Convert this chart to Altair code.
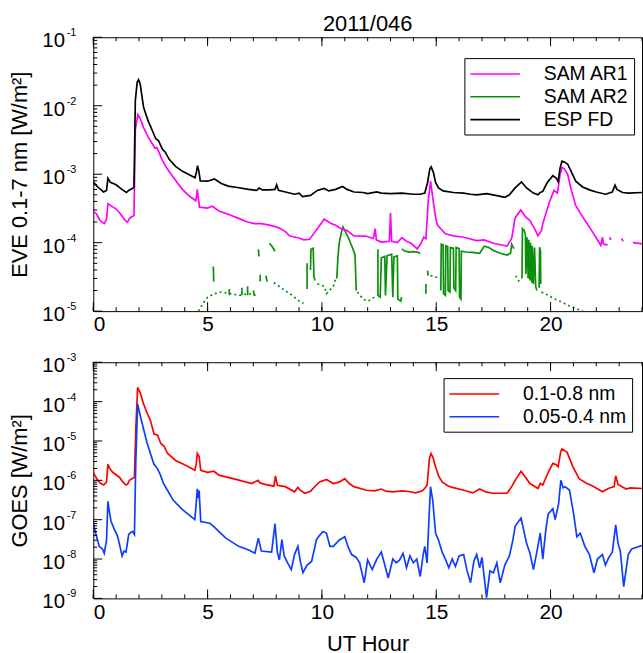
import altair as alt
import pandas as pd

FONT = "Liberation Sans"

# ---------------- EVE panel data ----------------
fd_hour = [0.0, 0.2, 0.45, 0.58, 0.64, 0.75, 1.0, 1.25, 1.45, 1.55, 1.78, 1.84, 1.92, 1.98, 2.05,
           2.2, 2.4, 2.6, 2.73, 2.85, 3.03, 3.15, 3.32, 3.6, 3.9, 4.2, 4.45, 4.52, 4.56, 4.62,
           4.68, 5.0, 5.3, 5.6, 5.9, 6.3, 6.8, 7.15, 7.25, 7.4, 7.7, 7.95, 8.02, 8.1, 8.5, 8.8,
           9.0, 9.15, 9.5, 9.8, 10.1, 10.3, 10.6, 10.9, 11.1, 11.4, 11.8, 12.0, 12.4, 12.6, 13.0,
           13.5, 14.0, 14.3, 14.5, 14.62, 14.72, 14.78, 14.88, 14.97, 15.1, 15.3, 15.75, 16.2,
           16.5, 16.77, 17.2, 17.6, 18.0, 18.2, 18.45, 18.73, 18.95, 19.25, 19.45, 19.55, 19.66,
           19.85, 20.1, 20.25, 20.33, 20.42, 20.5, 20.62, 20.75, 20.9, 21.1, 21.4, 21.7, 22.0,
           22.4, 22.7, 22.82, 22.9, 23.15, 23.4, 24.0]
fd_value = [7.7e-4, 6.5e-4, 5.5e-4, 5.8e-4, 8.7e-4, 7.6e-4, 7.0e-4, 6.0e-4, 5.4e-4, 5.8e-4, 6.4e-4,
            1.2e-2, 2.2e-2, 2.4e-2, 2.1e-2, 9.5e-3, 6.0e-3, 4.2e-3, 3.3e-3, 3.1e-3, 2.3e-3, 2.1e-3,
            1.65e-3, 1.3e-3, 1.1e-3, 9.8e-4, 8.9e-4, 1.1e-3, 1.33e-3, 1.1e-3, 8.0e-4, 7.9e-4,
            8.5e-4, 7.3e-4, 6.7e-4, 6.4e-4, 6.0e-4, 5.8e-4, 6.3e-4, 5.9e-4, 5.9e-4, 6.0e-4, 7.0e-4,
            5.8e-4, 5.4e-4, 5.1e-4, 5.3e-4, 4.7e-4, 4.9e-4, 5.8e-4, 6.2e-4, 5.7e-4, 6.0e-4, 6.6e-4,
            6.0e-4, 5.5e-4, 5.4e-4, 5.2e-4, 5.5e-4, 5.3e-4, 5.2e-4, 5.3e-4, 5.1e-4, 5.1e-4, 5.3e-4,
            7.5e-4, 1.2e-3, 1.28e-3, 1.05e-3, 7.6e-4, 6.3e-4, 5.7e-4, 5.4e-4, 5.3e-4, 5.1e-4,
            5.0e-4, 5.2e-4, 4.9e-4, 4.6e-4, 5.0e-4, 6.3e-4, 7.7e-4, 6.3e-4, 5.3e-4, 5.0e-4, 5.4e-4,
            5.6e-4, 7.5e-4, 9.5e-4, 8.8e-4, 7.8e-4, 1.25e-3, 1.55e-3, 1.5e-3, 1.4e-3, 1.1e-3,
            7.9e-4, 6.5e-4, 5.9e-4, 5.5e-4, 5.1e-4, 5.5e-4, 6.9e-4, 6.0e-4, 5.4e-4, 5.3e-4, 5.4e-4]

ar1_hour = [0.0, 0.15, 0.3, 0.48, 0.58, 0.64, 0.75, 1.0, 1.2, 1.4, 1.5, 1.6, 1.78, 1.84, 1.95, 2.05,
            2.2, 2.4, 2.55, 2.7, 2.78, 2.9, 3.0, 3.2, 3.45, 3.7, 3.9, 4.2, 4.48, 4.52, 4.55, 4.6,
            4.65, 5.0, 5.2, 5.5, 5.9, 6.3, 6.75, 7.05, 7.35, 7.7, 8.0, 8.2, 8.4, 8.6, 9.0, 9.2,
            9.46, 9.6, 9.8, 10.1, 10.4, 10.6, 10.85, 11.1, 11.4, 11.9, 12.25, 12.33, 12.38, 12.6,
            12.95, 13.0, 13.05, 13.3, 13.5, 13.7, 13.9, 14.17, 14.35, 14.45, 14.55, 14.65, 14.75,
            14.85, 14.95, 15.05, 15.4, 15.75, 16.2, 16.77, 17.1, 17.5, 18.1, 18.3, 18.45, 18.7,
            18.9, 19.1, 19.3, 19.45, 19.6, 19.66, 19.95, 20.15, 20.3, 20.42, 20.5, 20.6, 20.75,
            20.9, 21.1, 21.3, 21.55, 21.8, 21.98, 22.2, 22.27, 22.32, 22.5,
            22.58, 22.64, 23.1, 23.18, 23.6, 24.0]
ar1_value = [2.9e-4, 2.6e-4, 2.1e-4, 1.9e-4, 2.2e-4, 3.7e-4, 3.5e-4, 3.1e-4, 2.6e-4, 2.1e-4, 2.0e-4,
             2.3e-4, 2.5e-4, 4.5e-3, 7.4e-3, 6.5e-3, 4.8e-3, 3.5e-3, 2.9e-3, 2.4e-3, 2.45e-3,
             2.0e-3, 1.65e-3, 1.25e-3, 9.5e-4, 7.3e-4, 6.0e-4, 4.8e-4, 4.1e-4, 4.8e-4, 6.0e-4,
             4.3e-4, 3.3e-4, 3.2e-4, 3.4e-4, 2.9e-4, 2.6e-4, 2.3e-4, 2.0e-4, 1.9e-4, 1.9e-4,
             1.8e-4, 1.7e-4, 1.6e-4, 1.45e-4, 1.25e-4, 1.17e-4, 1.1e-4, 1.12e-4, 1.3e-4, 1.6e-4,
             2.2e-4, 1.9e-4, 1.8e-4, 1.6e-4, 1.5e-4, 1.26e-4, 1.25e-4, 1.15e-4, 1.6e-4, 1.1e-4,
             1.02e-4, 1.05e-4, 2.7e-4, 1.05e-4, 1.0e-4, 1.18e-4, 1.05e-4, 9.8e-5, 8.1e-5, 1.0e-4,
             1.2e-4, 1.15e-4, 4.0e-4, 7.9e-4, 4.5e-4, 2.6e-4, 1.8e-4, 1.35e-4, 1.26e-4, 1.2e-4,
             1.07e-4, 1.1e-4, 9.8e-5, 8.9e-5, 1.15e-4, 2.3e-4, 3.0e-4, 2.4e-4, 2.1e-4, 1.6e-4,
             1.26e-4, 1.5e-4, 1.9e-4, 3.9e-4, 5.8e-4, 5.3e-4, 1.0e-3, 1.26e-3, 1.2e-3, 1.0e-3,
             6.0e-4, 3.5e-4, 2.7e-4, 2.0e-4, 1.5e-4, 1.2e-4, 9.1e-5, 1.2e-4, 9.5e-5, 9.3e-5,
             1.2e-4, 1.1e-4, 1.15e-4, 1.05e-4, 1.0e-4, 9.6e-5]
ar1_seg = [0] * 111 + [1, 1, 2, 2, 3, 3]

# SAM AR2: solid pieces (vertical jumps where the signal flickers)
ar2_hour = [5.25, 5.27,
            5.95, 5.95, 6.5, 6.5, 6.75, 6.75, 7.0, 7.05,
            7.22, 7.25, 7.3, 7.3, 7.55, 7.6, 7.7, 7.8, 7.95,
            9.35, 9.35,
            9.5, 9.52, 9.62, 9.65, 9.7,
            10.65, 10.7, 10.75, 10.85, 10.92, 11.0, 11.15, 11.3, 11.4, 11.45, 11.5,
            12.45, 12.45, 12.55, 12.6, 12.75, 12.78, 12.85, 12.95, 13.05, 13.1, 13.15, 13.3, 13.32,
            13.45, 13.48,
            13.5, 13.6, 13.8, 14.0, 14.2, 14.3,
            14.55, 14.55, 14.62, 14.64,
            15.2, 15.22, 15.3, 15.32, 15.4, 15.42, 15.5, 15.52, 15.6, 15.62, 15.75, 15.77, 15.85,
            15.87, 16.0, 16.02, 16.08, 16.1, 16.3, 16.6, 16.9, 17.1, 17.3, 17.5, 17.8, 18.1, 18.25,
            18.3, 18.4,
            18.75, 18.77, 18.85, 18.9, 18.92, 18.97, 19.02, 19.05, 19.1, 19.12, 19.18, 19.2, 19.25,
            19.3, 19.35, 19.4,
            19.5, 19.52, 19.56, 19.57]
ar2_value = [4.5e-5, 2.7e-5,
             2.1e-5, 1.7e-5, 2.2e-5, 1.7e-5, 2.3e-5, 1.7e-5, 2.0e-5, 1.7e-5,
             8.0e-5, 6.3e-5, 3.4e-5, 2.7e-5, 3.3e-5, 2.7e-5, 9.8e-5, 9.0e-5, 7.5e-5,
             5.0e-5, 2.1e-5,
             4.0e-5, 8.0e-5, 8.3e-5, 3.2e-5, 2.8e-5,
             3.0e-5, 6.0e-5, 9.5e-5, 1.4e-4, 1.7e-4, 1.5e-4, 1.2e-4, 9.0e-5, 7.4e-5, 6.5e-5, 2.0e-5,
             8.0e-5, 1.7e-5, 1.6e-5, 6.0e-5, 6.3e-5, 1.7e-5, 6.4e-5, 6.6e-5, 6.8e-5, 1.6e-5,
             6.2e-5, 6.4e-5, 1.5e-5, 1.4e-5, 1.6e-5,
             8.1e-5, 7.6e-5, 7.3e-5, 7.4e-5, 7.2e-5, 7.0e-5,
             1.8e-5, 2.5e-5, 3.9e-5, 3.3e-5,
             2.0e-5, 9.5e-5, 9.3e-5, 1.8e-5, 1.7e-5, 9.0e-5, 8.8e-5, 2.0e-5, 1.9e-5, 8.5e-5,
             8.3e-5, 2.2e-5, 2.0e-5, 8.5e-5, 8.2e-5, 1.6e-5, 1.5e-5, 7.5e-5, 7.3e-5, 7.2e-5,
             7.0e-5, 8.9e-5, 8.5e-5, 7.7e-5, 7.0e-5, 6.6e-5, 7.0e-5, 9.5e-5, 8.2e-5,
             3.0e-5, 1.6e-4, 1.5e-4, 1.3e-4, 3.5e-5, 1.2e-4, 3.0e-5, 1.1e-4, 2.8e-5, 1.0e-4,
             2.6e-5, 9.0e-5, 2.5e-5, 8.5e-5, 2.3e-5, 2.0e-5,
             2.2e-5, 8.6e-5, 7.5e-5, 2.5e-5]
ar2_seg = ([0] * 2 + [1] * 2 + [2] * 2 + [3] * 2 + [4] * 2 + [5] * 2 + [6] * 2 + [7] * 2
           + [8] * 3 + [9] * 2 + [10] * 5 + [11] * 11 + [12] * 15 + [13] * 6 + [14] * 2
           + [15] * 2 + [16] * 29 + [17] * 16 + [18] * 4)

# SAM AR2: sparse, broken (dotted) stretches
ar2_dot_hour = [4.6, 4.8, 5.0, 5.3, 5.6, 6.0, 6.4, 6.8, 7.1,
                7.9, 8.3, 8.7, 9.0, 9.2,
                9.8, 10.1, 10.2, 10.5, 10.6,
                11.55, 11.8, 12.0, 12.2, 12.35,
                14.75, 14.9, 15.05,
                18.48, 18.6, 18.68,
                19.6, 19.9, 20.2, 20.5, 20.8, 21.1, 21.4, 21.6]
ar2_dot_value = [1.0e-5, 1.3e-5, 1.6e-5, 1.8e-5, 1.9e-5, 1.8e-5, 1.7e-5, 1.8e-5, 1.7e-5,
                 2.6e-5, 2.1e-5, 1.7e-5, 1.4e-5, 1.3e-5,
                 2.5e-5, 2.3e-5, 1.8e-5, 2.3e-5, 3.0e-5,
                 1.9e-5, 1.5e-5, 1.4e-5, 1.5e-5, 1.7e-5,
                 3.3e-5, 3.2e-5, 3.1e-5,
                 3.3e-5, 2.8e-5, 2.5e-5,
                 1.9e-5, 1.7e-5, 1.5e-5, 1.35e-5, 1.2e-5, 1.1e-5, 1.0e-5, 9.0e-6]
ar2_dot_seg = [0] * 9 + [1] * 5 + [2] * 5 + [3] * 5 + [4] * 3 + [5] * 3 + [6] * 8

# ---------------- GOES panel data ----------------
long_hour = [0.0, 0.15, 0.3, 0.45, 0.58, 0.64, 0.72, 0.85, 1.14, 1.3, 1.43, 1.5, 1.58, 1.8, 1.86,
             1.94, 2.05, 2.2, 2.35, 2.5, 2.66, 2.81, 2.96, 3.1, 3.25, 3.6, 4.04, 4.44, 4.5, 4.55,
             4.63, 4.7, 5.0, 5.27, 5.5, 6.2, 6.93, 7.2, 7.3, 7.5, 7.9, 7.97, 8.05, 8.4, 8.8, 8.95,
             9.05, 9.25, 9.5, 9.76, 9.9, 10.2, 10.5, 10.75, 11.0, 11.2, 11.4, 11.95, 12.3, 12.6,
             12.8, 13.1, 13.5, 13.8, 14.1, 14.4, 14.5, 14.6, 14.7, 14.77, 14.85, 14.97, 15.1,
             15.26, 15.5, 15.7, 16.2, 16.6, 16.9, 17.2, 17.5, 18.1, 18.3, 18.45, 18.71, 18.9,
             19.1, 19.45, 19.55, 19.66, 19.9, 20.1, 20.25, 20.33, 20.45, 20.5, 20.72, 20.98,
             21.25, 21.55, 21.9, 22.27, 22.55, 22.78, 22.85, 22.95, 23.3, 23.5, 24.0]
long_value = [1.6e-6, 1.1e-6, 8.5e-7, 7.6e-7, 9.0e-7, 2.6e-6, 2.0e-6, 1.6e-6, 1.2e-6, 9.0e-7,
              7.6e-7, 8.0e-7, 1.0e-6, 1.2e-6, 2.0e-5, 2.3e-4, 1.7e-4, 8.7e-5, 5.2e-5, 3.3e-5,
              1.5e-5, 1.4e-5, 8.5e-6, 7.3e-6, 4.8e-6, 3.2e-6, 2.4e-6, 1.8e-6, 2.5e-6, 4.8e-6,
              4.0e-6, 1.8e-6, 1.6e-6, 1.7e-6, 1.35e-6, 1.07e-6, 8.3e-7, 1.0e-6, 8.6e-7, 7.9e-7,
              7.1e-7, 1.3e-6, 7.5e-7, 6.9e-7, 5.1e-7, 6.6e-7, 5.6e-7, 4.7e-7, 5.3e-7, 7.6e-7,
              9.1e-7, 1.05e-6, 8.3e-7, 9.0e-7, 1.1e-6, 8.3e-7, 6.9e-7, 5.6e-7, 5.4e-7, 6.0e-7,
              5.3e-7, 5.1e-7, 5.4e-7, 5.2e-7, 4.8e-7, 5.4e-7, 6.3e-7, 7.5e-7, 3.5e-6, 4.8e-6,
              3.9e-6, 2.2e-6, 1.3e-6, 9.1e-7, 7.3e-7, 6.6e-7, 5.6e-7, 4.8e-7, 6.0e-7, 5.0e-7,
              4.7e-7, 4.7e-7, 6.9e-7, 1.0e-6, 1.7e-6, 1.2e-6, 8.3e-7, 6.2e-7, 8.3e-7, 7.6e-7,
              1.6e-6, 2.7e-6, 2.5e-6, 2.2e-6, 5.5e-6, 6.3e-6, 5.2e-6, 2.2e-6, 1.1e-6, 8.6e-7,
              6.9e-7, 5.1e-7, 6.3e-7, 6.9e-7, 1.3e-6, 7.9e-7, 6.0e-7, 6.4e-7, 6.2e-7]

short_hour = [0.0, 0.12, 0.26, 0.4, 0.48, 0.58, 0.64, 0.72, 0.78, 0.93, 1.05, 1.14, 1.26, 1.35, 1.43,
              1.55, 1.65, 1.72, 1.8, 1.86, 1.94, 2.05, 2.2, 2.35, 2.5, 2.65, 2.8, 2.94, 3.07, 3.2,
              3.5, 3.9, 4.2, 4.44, 4.5, 4.55, 4.6, 4.63, 4.7, 5.1, 5.3, 5.5, 5.8, 6.36, 6.8, 7.07,
              7.22, 7.35, 7.8, 7.95, 8.05, 8.14, 8.25, 8.35, 8.5, 8.66, 8.8, 8.95, 9.05, 9.17,
              9.35, 9.55, 9.76, 9.9, 10.05, 10.2, 10.35, 10.5, 10.75, 11.0, 11.15, 11.3, 11.5,
              11.65, 11.85, 12.0, 12.2, 12.4, 12.6, 12.9, 13.1, 13.25, 13.4, 13.55, 13.7, 13.85,
              14.0, 14.15, 14.3, 14.42, 14.5, 14.6, 14.68, 14.75, 14.85, 14.97, 15.1, 15.26, 15.4,
              15.55, 15.7, 15.84, 16.0, 16.2, 16.35, 16.5, 16.65, 16.77, 16.9, 17.0, 17.2, 17.35,
              17.5, 17.65, 17.8, 18.0, 18.2, 18.35, 18.45, 18.71, 18.95, 19.1, 19.25, 19.4, 19.55,
              19.66, 19.8, 19.9, 20.1, 20.2, 20.35, 20.45, 20.55, 20.64, 20.83, 21.0, 21.15, 21.3,
              21.5, 21.7, 21.9, 22.05, 22.27, 22.4, 22.55, 22.7, 22.85, 22.95, 23.05, 23.2, 23.4,
              23.55, 24.0]
short_value = [8.1e-8, 4.2e-8, 2.1e-8, 1.8e-8, 1.4e-8, 3.0e-8, 2.9e-7, 1.4e-7, 9.0e-8, 5.5e-8,
               4.0e-8, 2.5e-8, 1.2e-8, 1.6e-8, 1.5e-8, 4.2e-8, 4.8e-8, 5.0e-8, 4.2e-8, 3.0e-6,
               8.7e-5, 4.5e-5, 2.0e-5, 9.0e-6, 4.8e-6, 2.6e-6, 2.0e-6, 1.35e-6, 8.3e-7, 6.2e-7,
               3.1e-7, 1.8e-7, 1.3e-7, 1.0e-7, 2.5e-7, 6.1e-7, 3.5e-7, 5.5e-7, 9.0e-8, 8.1e-8,
               6.5e-8, 5.0e-8, 3.4e-8, 2.1e-8, 1.7e-8, 1.4e-8, 3.4e-8, 1.6e-8, 1.5e-8, 7.9e-8,
               1.5e-8, 9.5e-9, 3.1e-8, 1.2e-8, 8.0e-9, 5.4e-9, 1.3e-8, 2.1e-8, 9.0e-9, 4.5e-9,
               7.0e-9, 8.7e-9, 3.1e-8, 4.0e-8, 5.0e-8, 4.5e-8, 2.1e-8, 2.1e-8, 3.0e-8, 3.7e-8,
               2.0e-8, 1.3e-8, 1.1e-8, 8.0e-9, 2.5e-9, 9.5e-9, 5.4e-9, 1.0e-8, 1.5e-8, 3.3e-9,
               1.0e-8, 8.0e-9, 9.5e-9, 1.4e-8, 6.0e-9, 1.2e-8, 8.0e-9, 1.0e-8, 3.6e-9, 1.2e-8,
               2.1e-8, 8.0e-9, 1.0e-7, 6.9e-7, 3.0e-7, 4.6e-8, 3.0e-8, 1.5e-8, 1.0e-8, 6.0e-9,
               1.0e-8, 6.5e-9, 1.2e-8, 1.3e-8, 5.0e-9, 2.5e-9, 9.0e-9, 1.3e-8, 6.0e-9, 1.1e-8,
               1.05e-9, 5.0e-9, 4.5e-9, 8.0e-9, 2.5e-9, 7.0e-9, 1.2e-8, 3.0e-8, 6.8e-8, 1.1e-7,
               2.5e-8, 1.4e-8, 5.4e-9, 1.5e-8, 4.6e-8, 1.0e-8, 6.0e-8, 1.4e-7, 1.9e-7, 1.0e-7,
               2.5e-7, 1.0e-6, 6.5e-7, 6.9e-7, 5.6e-7, 1.5e-7, 3.7e-8, 4.5e-8, 2.1e-8, 1.3e-8,
               4.5e-9, 1.0e-8, 1.3e-8, 7.0e-9, 1.1e-8, 1.5e-8, 7.4e-8, 2.5e-8, 1.6e-8, 2.0e-9,
               1.3e-8, 1.8e-8, 2.2e-8]

# ---------------- labels / axes ----------------
title_text = "2011/046"
top_series = ["SAM AR1", "SAM AR2", "ESP FD"]
top_colors = ["#ff00ff", "#0a8f0a", "#000000"]
bottom_series = ["0.1-0.8 nm", "0.05-0.4 nm"]
bottom_colors = ["#ff0000", "#0f3cff"]
top_ytitle = "EVE 0.1-7 nm [W/m²]"
bottom_ytitle = "GOES [W/m²]"
xtitle = "UT Hour"
major_hours = [0, 5, 10, 15, 20]
minor_hours = list(range(0, 25))
top_decades = [1e-5, 1e-4, 1e-3, 1e-2, 1e-1]
top_exponents = ["-5", "-4", "-3", "-2", "-1"]
bottom_decades = [1e-9, 1e-8, 1e-7, 1e-6, 1e-5, 1e-4, 1e-3]
bottom_exponents = ["-9", "-8", "-7", "-6", "-5", "-4", "-3"]

XMAX = 24
W = 553
H_TOP = 276
H_BOT = 238


def frame(series, hours, values, segs=None):
    if segs is None:
        segs = [0] * len(hours)
    return pd.DataFrame({"series": series, "hour": hours, "value": values,
                         "seg": [f"{series}-{s}" for s in segs]})


top_lines = pd.concat([
    frame("SAM AR2", ar2_hour, ar2_value, ar2_seg),
    frame("SAM AR1", ar1_hour, ar1_value, ar1_seg),
    frame("ESP FD", fd_hour, fd_value),
], ignore_index=True)
top_lines["idx"] = range(len(top_lines))
top_dots = frame("SAM AR2", ar2_dot_hour, ar2_dot_value, ar2_dot_seg)
top_dots["idx"] = range(len(top_dots))

bot_lines = pd.concat([
    frame("0.1-0.8 nm", long_hour, long_value),
    frame("0.05-0.4 nm", short_hour, short_value),
], ignore_index=True)
bot_lines["idx"] = range(len(bot_lines))


def minor_logs(decades):
    return [m * d for d in decades[:-1] for m in range(2, 10)]


def panel(lines_df, dots_df, series, colors, decades, exponents, ytitle, lx, ly, H,
          show_xtitle, title=None):
    x = alt.X("hour:Q", scale=alt.Scale(domain=[0, XMAX], nice=False, zero=False),
              axis=alt.Axis(values=major_hours, title=xtitle if show_xtitle else None,
                            labelPadding=3, titlePadding=12, format="d"))
    y = alt.Y("value:Q", scale=alt.Scale(type="log", domain=[decades[0], decades[-1]], nice=False),
              axis=alt.Axis(values=decades, labelExpr="'10'", title=ytitle, labelFontSize=20.5,
                            labelPadding=29, titlePadding=10, labelOffset=3.5))
    color = alt.Color("series:N", scale=alt.Scale(domain=series, range=colors),
                      legend=alt.Legend(orient="none", legendX=lx, legendY=ly, title=None,
                                        strokeColor="black", fillColor="white", padding=5,
                                        symbolType="M-2.5,0L2.5,0", symbolSize=400,
                                        symbolOffset=15, symbolStrokeWidth=1.6,
                                        labelFontSize=19.5, labelFont=FONT, rowPadding=2,
                                        labelOffset=38, cornerRadius=0, labelLimit=400))
    layers = []
    if dots_df is not None:
        layers.append(alt.Chart(dots_df).mark_line(strokeWidth=1.7, strokeDash=[2, 3], clip=True)
                      .encode(x=x, y=y, color=color, detail="seg:N", order="idx:Q"))
    layers.append(alt.Chart(lines_df).mark_line(strokeWidth=1.7, clip=True)
                  .encode(x=x, y=y, color=color, detail="seg:N", order="idx:Q"))

    maj = pd.DataFrame({"hour": major_hours})
    mnr = pd.DataFrame({"hour": minor_hours})
    ymaj = pd.DataFrame({"value": decades})
    ymin = pd.DataFrame({"value": minor_logs(decades)})
    expo = pd.DataFrame({"value": decades, "exp": exponents})
    rule = dict(color="black", strokeWidth=1)
    layers += [
        alt.Chart(maj).mark_rule(**rule).encode(x=x, y=alt.value(H), y2=alt.value(H - 9)),
        alt.Chart(mnr).mark_rule(**rule).encode(x=x, y=alt.value(H), y2=alt.value(H - 4)),
        alt.Chart(maj).mark_rule(**rule).encode(x=x, y=alt.value(0), y2=alt.value(9)),
        alt.Chart(mnr).mark_rule(**rule).encode(x=x, y=alt.value(0), y2=alt.value(4)),
        alt.Chart(ymaj).mark_rule(**rule).encode(y=y, x=alt.value(0), x2=alt.value(9)),
        alt.Chart(ymin).mark_rule(**rule).encode(y=y, x=alt.value(0), x2=alt.value(4)),
        alt.Chart(expo).mark_text(font=FONT, fontSize=11, align="right", baseline="middle",
                                  dy=-4, color="black")
        .encode(y=y, x=alt.value(-17), text="exp:N"),
    ]
    ch = alt.layer(*layers).properties(width=W, height=H)
    if title:
        ch = ch.properties(title=alt.TitleParams(title, fontSize=22, font=FONT, fontWeight="normal",
                                                 offset=-9, anchor="middle", color="black"))
    return ch


top = panel(top_lines, top_dots, top_series, top_colors, top_decades, top_exponents, top_ytitle,
            374, 21, H_TOP, False, title_text)
bottom = panel(bot_lines, None, bottom_series, bottom_colors, bottom_decades, bottom_exponents,
               bottom_ytitle, 353, 16, H_BOT, True)

chart = (alt.vconcat(top, bottom, spacing=15.5)
         .resolve_scale(color="independent")
         .properties(padding={"left": 8, "top": 10, "right": 0, "bottom": 0}, background="white")
         .configure_view(stroke="black", strokeWidth=1)
         .configure_axis(labelFont=FONT, titleFont=FONT, labelFontSize=21, titleFontSize=22,
                         labelColor="black", titleColor="black", titleFontWeight="normal",
                         domain=False, ticks=False, grid=False))

chart.save("out.html", embed_options={"renderer": "svg", "actions": False})
